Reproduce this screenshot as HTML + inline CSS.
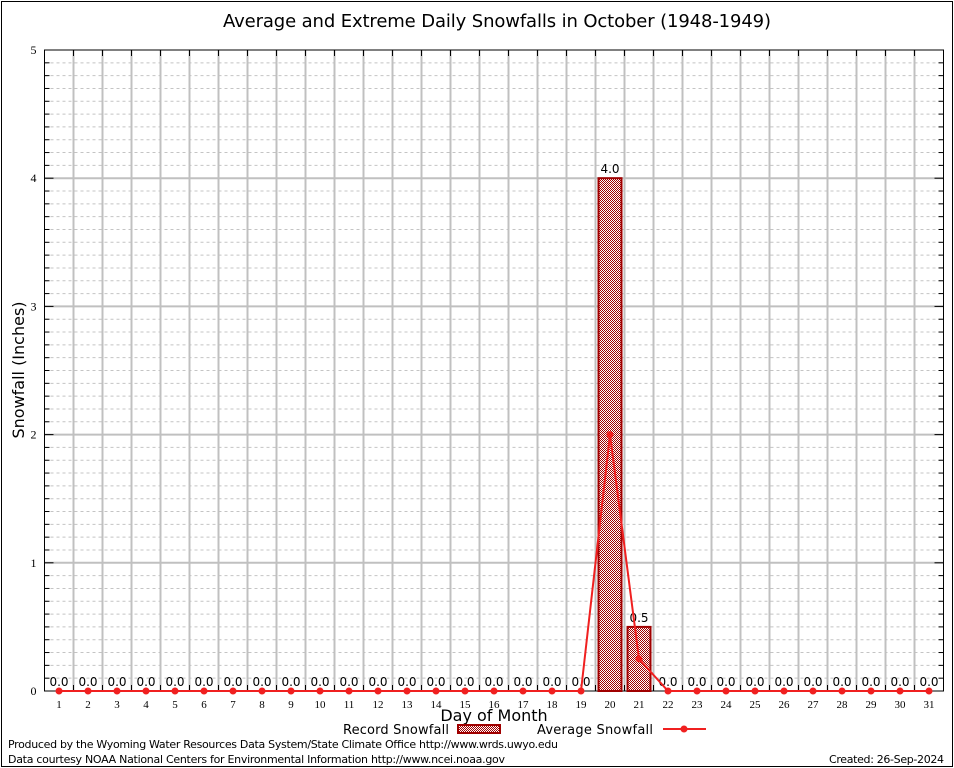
<!DOCTYPE html>
<html><head><meta charset="utf-8"><style>
body{margin:0;background:#fff;}
svg{display:block;font-family:"DejaVu Sans","Liberation Sans",sans-serif;}
</style></head><body>
<svg id="chart" width="954" height="768">
<defs>
<pattern id="hatch" width="2" height="2" patternUnits="userSpaceOnUse">
<rect width="2" height="2" fill="#fff"/><rect width="1" height="1" fill="#a00000"/><rect x="1" y="1" width="1" height="1" fill="#a00000"/>
</pattern>
</defs>
<rect x="1.5" y="1.5" width="951" height="765" fill="none" stroke="#000" stroke-width="1"/>
<text x="497" y="27" text-anchor="middle" font-size="18" textLength="548">Average and Extreme Daily Snowfalls in October (1948-1949)</text>
<g id="grid"></g>
<g id="marks"></g>
<text transform="translate(24,370) rotate(-90)" text-anchor="middle" font-size="16">Snowfall (Inches)</text>
<text x="494" y="721" text-anchor="middle" font-size="16">Day of Month</text>
<g>
<text x="343" y="734" font-size="13" textLength="106">Record Snowfall</text>
<rect x="458" y="725" width="42" height="8" fill="url(#hatch)" stroke="#a00000" stroke-width="2"/>
</g>
<g>
<text x="537" y="734" font-size="13" textLength="116">Average Snowfall</text>
<line x1="663" y1="729" x2="706" y2="729" stroke="#f02020" stroke-width="2"/>
<circle cx="684" cy="729" r="3.5" fill="#f02020"/>
</g>
<text x="8" y="748" font-size="11" textLength="550">Produced by the Wyoming Water Resources Data System/State Climate Office http://www.wrds.uwyo.edu</text>
<text x="8" y="763" font-size="11" textLength="497">Data courtesy NOAA National Centers for Environmental Information http://www.ncei.noaa.gov</text>
<text x="944" y="763" text-anchor="end" font-size="11" textLength="115">Created: 26-Sep-2024</text>
</svg>
<script>
const days = Array.from({length:31},(_,i)=>i+1);
const recordVals = [0,0,0,0,0,0,0,0,0,0,0,0,0,0,0,0,0,0,0,4.0,0.5,0,0,0,0,0,0,0,0,0,0];
const avgVals = [0,0,0,0,0,0,0,0,0,0,0,0,0,0,0,0,0,0,0,2.0,0.25,0,0,0,0,0,0,0,0,0,0];
const yTicks = [0,1,2,3,4,5];

const NS="http://www.w3.org/2000/svg";
const L=44.5,R=943.5,T=50,B=691,YMAX=5;
const xw=(R-L)/31;
const x=d=>L+(d-0.5)*xw;
const y=v=>B-(v/YMAX)*(B-T);
function mk(tag,attrs,parent){const e=document.createElementNS(NS,tag);for(const k in attrs)e.setAttribute(k,attrs[k]);parent.appendChild(e);return e;}
const grid=document.getElementById('grid'), marks=document.getElementById('marks');

for(let k=1;k<YMAX*10;k++){
  if(k%10===0) continue;
  const v=k/10;
  const l=mk('line',{x1:L,x2:R,y1:y(v),y2:y(v),stroke:'#c4c4c4','stroke-dasharray':'3,3','stroke-width':1},grid);
  
  
  mk('line',{x1:L,x2:L+5,y1:y(v),y2:y(v),stroke:'#000'},grid);
  mk('line',{x1:R-5,x2:R,y1:y(v),y2:y(v),stroke:'#000'},grid);
}
for(let i=1;i<31;i++){
  const gx=L+i*xw;
  const l=mk('line',{x1:gx,x2:gx,y1:T,y2:B,stroke:'#c0c0c0','stroke-width':2},grid);
  
  
  mk('line',{x1:gx,x2:gx,y1:T,y2:T+6,stroke:'#000'},grid);
  mk('line',{x1:gx,x2:gx,y1:B-6,y2:B,stroke:'#000'},grid);
}
yTicks.forEach(v=>{
  if(v>0&&v<YMAX){
    const l=mk('line',{x1:L,x2:R,y1:y(v),y2:y(v),stroke:'#c0c0c0','stroke-width':2},grid);
    
    
  }
  mk('line',{x1:L,x2:L+9,y1:y(v),y2:y(v),stroke:'#000'},grid);
  mk('line',{x1:R-9,x2:R,y1:y(v),y2:y(v),stroke:'#000'},grid);
  const t=mk('text',{x:L-8,y:y(v)+4,'text-anchor':'end','font-size':12,'font-family':'Liberation Serif, serif'},grid);
  t.textContent=v;
  
  
});
mk('rect',{x:L,y:T,width:R-L,height:B-T,fill:'none',stroke:'#000','stroke-width':1},grid);
days.forEach(d=>{
  const t=mk('text',{x:x(d),y:B+17,'text-anchor':'middle','font-size':11,'font-family':'Liberation Serif, serif'},grid);
  t.textContent=d;
  
  
});
days.forEach((d,i)=>{
  const v=recordVals[i];
  if(v>0){
    const r=mk('rect',{x:x(d)-11.5,y:y(v),width:23,height:B-y(v),fill:'url(#hatch)',stroke:'#a00000','stroke-width':2},marks);
    
    
  }
  const t=mk('text',{x:x(d),y:y(v)-5,'text-anchor':'middle','font-size':12},marks);
  t.textContent=v.toFixed(1);
  
  
});
const pts=days.map((d,i)=>x(d)+','+y(avgVals[i])).join(' ');
const pl=mk('polyline',{points:pts,fill:'none',stroke:'#f02020','stroke-width':2},marks);


days.forEach((d,i)=>{
  const c=mk('circle',{cx:x(d),cy:y(avgVals[i]),r:3.5,fill:'#f02020'},marks);
  
  
});
</script>
</body></html>
